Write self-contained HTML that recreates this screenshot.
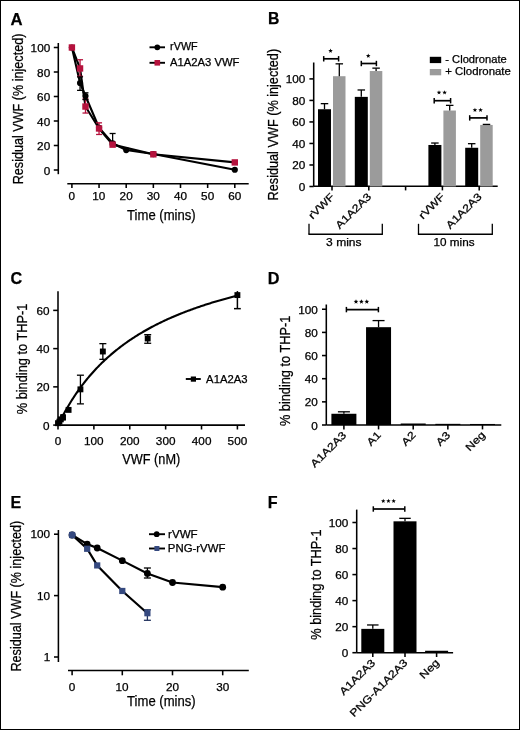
<!DOCTYPE html>
<html><head><meta charset="utf-8"><style>
html,body{margin:0;padding:0;background:#fff;}
svg{display:block;will-change:transform;}
text{font-family:"Liberation Sans", sans-serif;fill:#000;stroke:#000;stroke-width:0.25px;}
</style></head><body>
<svg width="520" height="730" viewBox="0 0 520 730">
<rect x="0" y="0" width="520" height="730" fill="#fff"/>
<rect x="0.5" y="0.5" width="519" height="729" fill="none" stroke="#000" stroke-width="1"/>
<text x="10.38" y="24.50" font-size="17" font-weight="bold" textLength="12.07" lengthAdjust="spacingAndGlyphs" >A</text>
<line x1="58.30" y1="43.00" x2="58.30" y2="174.20" stroke="#000" stroke-width="1.55" />
<line x1="53.80" y1="170.00" x2="58.30" y2="170.00" stroke="#000" stroke-width="1.55" />
<text x="43.65" y="174.50" font-size="10.3" textLength="6.53" lengthAdjust="spacingAndGlyphs" >0</text>
<line x1="53.80" y1="145.50" x2="58.30" y2="145.50" stroke="#000" stroke-width="1.55" />
<text x="37.14" y="150.00" font-size="10.3" textLength="13.06" lengthAdjust="spacingAndGlyphs" >20</text>
<line x1="53.80" y1="121.00" x2="58.30" y2="121.00" stroke="#000" stroke-width="1.55" />
<text x="37.14" y="125.51" font-size="10.3" textLength="13.06" lengthAdjust="spacingAndGlyphs" >40</text>
<line x1="53.80" y1="96.50" x2="58.30" y2="96.50" stroke="#000" stroke-width="1.55" />
<text x="37.14" y="101.01" font-size="10.3" textLength="13.06" lengthAdjust="spacingAndGlyphs" >60</text>
<line x1="53.80" y1="72.00" x2="58.30" y2="72.00" stroke="#000" stroke-width="1.55" />
<text x="37.14" y="76.51" font-size="10.3" textLength="13.06" lengthAdjust="spacingAndGlyphs" >80</text>
<line x1="53.80" y1="47.50" x2="58.30" y2="47.50" stroke="#000" stroke-width="1.55" />
<text x="30.62" y="52.00" font-size="10.3" textLength="19.59" lengthAdjust="spacingAndGlyphs" >100</text>
<line x1="67.30" y1="183.70" x2="248.70" y2="183.70" stroke="#000" stroke-width="1.55" />
<line x1="71.90" y1="183.70" x2="71.90" y2="188.00" stroke="#000" stroke-width="1.55" />
<text x="68.64" y="200.30" font-size="10.3" textLength="6.53" lengthAdjust="spacingAndGlyphs" >0</text>
<line x1="99.05" y1="183.70" x2="99.05" y2="188.00" stroke="#000" stroke-width="1.55" />
<text x="92.33" y="200.30" font-size="10.3" textLength="13.06" lengthAdjust="spacingAndGlyphs" >10</text>
<line x1="126.20" y1="183.70" x2="126.20" y2="188.00" stroke="#000" stroke-width="1.55" />
<text x="119.62" y="200.30" font-size="10.3" textLength="13.06" lengthAdjust="spacingAndGlyphs" >20</text>
<line x1="153.35" y1="183.70" x2="153.35" y2="188.00" stroke="#000" stroke-width="1.55" />
<text x="146.83" y="200.30" font-size="10.3" textLength="13.06" lengthAdjust="spacingAndGlyphs" >30</text>
<line x1="180.50" y1="183.70" x2="180.50" y2="188.00" stroke="#000" stroke-width="1.55" />
<text x="174.07" y="200.30" font-size="10.3" textLength="13.06" lengthAdjust="spacingAndGlyphs" >40</text>
<line x1="207.65" y1="183.70" x2="207.65" y2="188.00" stroke="#000" stroke-width="1.55" />
<text x="201.13" y="200.30" font-size="10.3" textLength="13.06" lengthAdjust="spacingAndGlyphs" >50</text>
<line x1="234.80" y1="183.70" x2="234.80" y2="188.00" stroke="#000" stroke-width="1.55" />
<text x="228.22" y="200.30" font-size="10.3" textLength="13.06" lengthAdjust="spacingAndGlyphs" >60</text>
<text x="127.07" y="220.00" font-size="14.2" font-weight="normal" textLength="68.58" lengthAdjust="spacingAndGlyphs" >Time (mins)</text>
<g transform="translate(22.50 183.30) rotate(-90)"><text x="-1.01" y="0" font-size="14.4" textLength="150.71" lengthAdjust="spacingAndGlyphs" >Residual VWF (% injected)</text></g>
<path d="M71.90,47.50 L80.05,83.02 L85.48,96.01 L99.05,127.74 L112.62,143.29 L126.20,150.03 L153.35,154.07 L234.80,169.75" fill="none" stroke="#000" stroke-width="2.1" stroke-linejoin="round"/>
<path d="M71.90,47.50 L80.05,68.45 L85.48,106.55 L99.05,128.47 L112.62,144.64 L153.35,154.32 L234.80,162.41" fill="none" stroke="#000" stroke-width="2.1" stroke-linejoin="round"/>
<line x1="80.05" y1="59.75" x2="80.05" y2="76.29" stroke="#b5123d" stroke-width="1.3" />
<line x1="77.05" y1="59.75" x2="83.05" y2="59.75" stroke="#b5123d" stroke-width="1.3" />
<line x1="77.05" y1="76.29" x2="83.05" y2="76.29" stroke="#b5123d" stroke-width="1.3" />
<line x1="85.48" y1="98.95" x2="85.48" y2="113.04" stroke="#b5123d" stroke-width="1.3" />
<line x1="82.48" y1="98.95" x2="88.48" y2="98.95" stroke="#b5123d" stroke-width="1.3" />
<line x1="82.48" y1="113.04" x2="88.48" y2="113.04" stroke="#b5123d" stroke-width="1.3" />
<line x1="99.05" y1="122.84" x2="99.05" y2="134.47" stroke="#b5123d" stroke-width="1.3" />
<line x1="96.05" y1="122.84" x2="102.05" y2="122.84" stroke="#b5123d" stroke-width="1.3" />
<line x1="96.05" y1="134.47" x2="102.05" y2="134.47" stroke="#b5123d" stroke-width="1.3" />
<line x1="80.05" y1="76.90" x2="80.05" y2="90.38" stroke="#000" stroke-width="1.3" />
<line x1="77.05" y1="76.90" x2="83.05" y2="76.90" stroke="#000" stroke-width="1.3" />
<line x1="77.05" y1="90.38" x2="83.05" y2="90.38" stroke="#000" stroke-width="1.3" />
<line x1="85.48" y1="92.82" x2="85.48" y2="99.56" stroke="#000" stroke-width="1.3" />
<line x1="82.48" y1="92.82" x2="88.48" y2="92.82" stroke="#000" stroke-width="1.3" />
<line x1="82.48" y1="99.56" x2="88.48" y2="99.56" stroke="#000" stroke-width="1.3" />
<line x1="112.62" y1="133.50" x2="112.62" y2="144.89" stroke="#000" stroke-width="1.3" />
<line x1="109.62" y1="133.50" x2="115.62" y2="133.50" stroke="#000" stroke-width="1.3" />
<line x1="109.62" y1="144.89" x2="115.62" y2="144.89" stroke="#000" stroke-width="1.3" />
<circle cx="71.90" cy="47.50" r="3.1" fill="#000"/>
<circle cx="80.05" cy="83.02" r="3.1" fill="#000"/>
<circle cx="85.48" cy="96.01" r="3.1" fill="#000"/>
<circle cx="99.05" cy="127.74" r="3.1" fill="#000"/>
<circle cx="112.62" cy="143.29" r="3.1" fill="#000"/>
<circle cx="126.20" cy="150.03" r="3.1" fill="#000"/>
<circle cx="153.35" cy="154.07" r="3.1" fill="#000"/>
<circle cx="234.80" cy="169.75" r="3.1" fill="#000"/>
<rect x="68.70" y="44.30" width="6.40" height="6.40" fill="#b5123d"/>
<rect x="76.84" y="65.25" width="6.40" height="6.40" fill="#b5123d"/>
<rect x="82.28" y="103.34" width="6.40" height="6.40" fill="#b5123d"/>
<rect x="95.85" y="125.27" width="6.40" height="6.40" fill="#b5123d"/>
<rect x="109.42" y="141.44" width="6.40" height="6.40" fill="#b5123d"/>
<rect x="150.15" y="151.12" width="6.40" height="6.40" fill="#b5123d"/>
<rect x="231.60" y="159.21" width="6.40" height="6.40" fill="#b5123d"/>
<line x1="149.50" y1="47.30" x2="165.00" y2="47.30" stroke="#000" stroke-width="1.9" />
<circle cx="157.30" cy="47.30" r="2.9" fill="#000"/>
<text x="170.10" y="50.40" font-size="10.3" font-weight="normal" textLength="27.63" lengthAdjust="spacingAndGlyphs" >rVWF</text>
<line x1="149.50" y1="62.80" x2="165.00" y2="62.80" stroke="#000" stroke-width="1.9" />
<rect x="154.50" y="60.00" width="5.60" height="5.60" fill="#b5123d"/>
<text x="169.94" y="65.50" font-size="10.3" font-weight="normal" textLength="69.50" lengthAdjust="spacingAndGlyphs" >A1A2A3 VWF</text>
<text x="267.98" y="24.40" font-size="17" font-weight="bold" textLength="11.37" lengthAdjust="spacingAndGlyphs" >B</text>
<line x1="313.70" y1="62.50" x2="313.70" y2="186.50" stroke="#000" stroke-width="1.55" />
<line x1="309.40" y1="186.50" x2="313.70" y2="186.50" stroke="#000" stroke-width="1.55" />
<text x="298.85" y="191.00" font-size="10.3" textLength="6.53" lengthAdjust="spacingAndGlyphs" >0</text>
<line x1="309.40" y1="164.98" x2="313.70" y2="164.98" stroke="#000" stroke-width="1.55" />
<text x="292.34" y="169.48" font-size="10.3" textLength="13.06" lengthAdjust="spacingAndGlyphs" >20</text>
<line x1="309.40" y1="143.46" x2="313.70" y2="143.46" stroke="#000" stroke-width="1.55" />
<text x="292.34" y="147.96" font-size="10.3" textLength="13.06" lengthAdjust="spacingAndGlyphs" >40</text>
<line x1="309.40" y1="121.94" x2="313.70" y2="121.94" stroke="#000" stroke-width="1.55" />
<text x="292.34" y="126.45" font-size="10.3" textLength="13.06" lengthAdjust="spacingAndGlyphs" >60</text>
<line x1="309.40" y1="100.42" x2="313.70" y2="100.42" stroke="#000" stroke-width="1.55" />
<text x="292.34" y="104.92" font-size="10.3" textLength="13.06" lengthAdjust="spacingAndGlyphs" >80</text>
<line x1="309.40" y1="78.90" x2="313.70" y2="78.90" stroke="#000" stroke-width="1.55" />
<text x="285.82" y="83.41" font-size="10.3" textLength="19.59" lengthAdjust="spacingAndGlyphs" >100</text>
<line x1="313.70" y1="186.30" x2="497.70" y2="186.30" stroke="#000" stroke-width="1.55" />
<line x1="332.00" y1="186.50" x2="332.00" y2="190.40" stroke="#000" stroke-width="1.55" />
<line x1="368.80" y1="186.50" x2="368.80" y2="190.40" stroke="#000" stroke-width="1.55" />
<line x1="405.60" y1="186.50" x2="405.60" y2="190.40" stroke="#000" stroke-width="1.55" />
<line x1="442.40" y1="186.50" x2="442.40" y2="190.40" stroke="#000" stroke-width="1.55" />
<line x1="479.20" y1="186.50" x2="479.20" y2="190.40" stroke="#000" stroke-width="1.55" />
<rect x="318.00" y="109.24" width="13.00" height="77.26" fill="#000"/>
<rect x="333.00" y="76.21" width="12.50" height="110.29" fill="#9b9b9b"/>
<line x1="324.50" y1="103.65" x2="324.50" y2="109.24" stroke="#000" stroke-width="1.3" />
<line x1="320.75" y1="103.65" x2="328.25" y2="103.65" stroke="#000" stroke-width="1.3" />
<line x1="339.30" y1="63.84" x2="339.30" y2="76.21" stroke="#000" stroke-width="1.3" />
<line x1="335.55" y1="63.84" x2="343.05" y2="63.84" stroke="#000" stroke-width="1.3" />
<rect x="354.80" y="96.87" width="13.00" height="89.63" fill="#000"/>
<rect x="369.80" y="71.05" width="12.50" height="115.45" fill="#9b9b9b"/>
<line x1="361.30" y1="89.98" x2="361.30" y2="96.87" stroke="#000" stroke-width="1.3" />
<line x1="357.55" y1="89.98" x2="365.05" y2="89.98" stroke="#000" stroke-width="1.3" />
<line x1="376.10" y1="68.14" x2="376.10" y2="71.05" stroke="#000" stroke-width="1.3" />
<line x1="372.35" y1="68.14" x2="379.85" y2="68.14" stroke="#000" stroke-width="1.3" />
<rect x="428.40" y="144.97" width="13.00" height="41.53" fill="#000"/>
<rect x="443.40" y="110.53" width="12.50" height="75.97" fill="#9b9b9b"/>
<line x1="434.90" y1="143.03" x2="434.90" y2="144.97" stroke="#000" stroke-width="1.3" />
<line x1="431.15" y1="143.03" x2="438.65" y2="143.03" stroke="#000" stroke-width="1.3" />
<line x1="449.70" y1="105.37" x2="449.70" y2="110.53" stroke="#000" stroke-width="1.3" />
<line x1="445.95" y1="105.37" x2="453.45" y2="105.37" stroke="#000" stroke-width="1.3" />
<rect x="465.20" y="147.76" width="13.00" height="38.74" fill="#000"/>
<rect x="480.20" y="124.95" width="12.50" height="61.55" fill="#9b9b9b"/>
<line x1="471.70" y1="143.68" x2="471.70" y2="147.76" stroke="#000" stroke-width="1.3" />
<line x1="467.95" y1="143.68" x2="475.45" y2="143.68" stroke="#000" stroke-width="1.3" />
<line x1="486.50" y1="124.41" x2="486.50" y2="124.95" stroke="#000" stroke-width="1.3" />
<line x1="482.75" y1="124.41" x2="490.25" y2="124.41" stroke="#000" stroke-width="1.3" />
<line x1="323.70" y1="58.80" x2="338.60" y2="58.80" stroke="#000" stroke-width="1.7" />
<line x1="323.70" y1="56.10" x2="323.70" y2="61.50" stroke="#000" stroke-width="1.5" />
<line x1="338.60" y1="56.10" x2="338.60" y2="61.50" stroke="#000" stroke-width="1.5" />
<polygon points="330.55,48.50 331.14,50.08 332.83,50.16 331.51,51.21 331.96,52.84 330.55,51.91 329.14,52.84 329.59,51.21 328.27,50.16 329.96,50.08" fill="#000"/>
<line x1="361.30" y1="63.50" x2="376.40" y2="63.50" stroke="#000" stroke-width="1.7" />
<line x1="361.30" y1="60.80" x2="361.30" y2="66.20" stroke="#000" stroke-width="1.5" />
<line x1="376.40" y1="60.80" x2="376.40" y2="66.20" stroke="#000" stroke-width="1.5" />
<polygon points="368.25,53.50 368.84,55.08 370.53,55.16 369.21,56.21 369.66,57.84 368.25,56.91 366.84,57.84 367.29,56.21 365.97,55.16 367.66,55.08" fill="#000"/>
<line x1="434.20" y1="100.70" x2="450.60" y2="100.70" stroke="#000" stroke-width="1.7" />
<line x1="434.20" y1="98.00" x2="434.20" y2="103.40" stroke="#000" stroke-width="1.5" />
<line x1="450.60" y1="98.00" x2="450.60" y2="103.40" stroke="#000" stroke-width="1.5" />
<polygon points="439.00,90.20 439.59,91.78 441.28,91.86 439.96,92.91 440.41,94.54 439.00,93.61 437.59,94.54 438.04,92.91 436.72,91.86 438.41,91.78" fill="#000"/>
<polygon points="444.60,90.20 445.19,91.78 446.88,91.86 445.56,92.91 446.01,94.54 444.60,93.61 443.19,94.54 443.64,92.91 442.32,91.86 444.01,91.78" fill="#000"/>
<line x1="469.70" y1="117.90" x2="487.00" y2="117.90" stroke="#000" stroke-width="1.7" />
<line x1="469.70" y1="115.20" x2="469.70" y2="120.60" stroke="#000" stroke-width="1.5" />
<line x1="487.00" y1="115.20" x2="487.00" y2="120.60" stroke="#000" stroke-width="1.5" />
<polygon points="474.95,107.70 475.54,109.28 477.23,109.36 475.91,110.41 476.36,112.04 474.95,111.11 473.54,112.04 473.99,110.41 472.67,109.36 474.36,109.28" fill="#000"/>
<polygon points="480.55,107.70 481.14,109.28 482.83,109.36 481.51,110.41 481.96,112.04 480.55,111.11 479.14,112.04 479.59,110.41 478.27,109.36 479.96,109.28" fill="#000"/>
<rect x="429.80" y="56.80" width="11.40" height="6.30" fill="#000"/>
<rect x="429.80" y="69.00" width="11.40" height="6.30" fill="#9b9b9b"/>
<text x="445.30" y="63.00" font-size="10.3" font-weight="normal" textLength="61.44" lengthAdjust="spacingAndGlyphs" >- Clodronate</text>
<text x="445.23" y="75.00" font-size="10.3" font-weight="normal" textLength="65.67" lengthAdjust="spacingAndGlyphs" >+ Clodronate</text>
<g transform="translate(278.10 199.40) rotate(-90)"><text x="-1.01" y="0" font-size="14.4" textLength="151.52" lengthAdjust="spacingAndGlyphs" >Residual VWF (% injected)</text></g>
<g transform="translate(334.70 197.70) rotate(-45)"><text x="-31.16" y="0" font-size="10.5" textLength="31.65" lengthAdjust="spacingAndGlyphs" >rVWF</text></g>
<g transform="translate(371.50 197.70) rotate(-45)"><text x="-44.91" y="0" font-size="10.5" textLength="45.47" lengthAdjust="spacingAndGlyphs" >A1A2A3</text></g>
<g transform="translate(445.10 197.70) rotate(-45)"><text x="-31.16" y="0" font-size="10.5" textLength="31.65" lengthAdjust="spacingAndGlyphs" >rVWF</text></g>
<g transform="translate(481.90 197.70) rotate(-45)"><text x="-44.91" y="0" font-size="10.5" textLength="45.47" lengthAdjust="spacingAndGlyphs" >A1A2A3</text></g>
<line x1="309.00" y1="223.80" x2="309.00" y2="234.30" stroke="#000" stroke-width="1.3" />
<line x1="382.30" y1="223.80" x2="382.30" y2="234.30" stroke="#000" stroke-width="1.3" />
<line x1="308.40" y1="234.30" x2="382.90" y2="234.30" stroke="#000" stroke-width="1.5" />
<text x="326.12" y="246.00" font-size="10.3" font-weight="normal" textLength="35.41" lengthAdjust="spacingAndGlyphs" >3 mins</text>
<line x1="418.50" y1="223.80" x2="418.50" y2="234.30" stroke="#000" stroke-width="1.3" />
<line x1="492.30" y1="223.80" x2="492.30" y2="234.30" stroke="#000" stroke-width="1.3" />
<line x1="417.90" y1="234.30" x2="492.90" y2="234.30" stroke="#000" stroke-width="1.5" />
<text x="433.52" y="246.00" font-size="10.3" font-weight="normal" textLength="41.01" lengthAdjust="spacingAndGlyphs" >10 mins</text>
<text x="10.55" y="284.30" font-size="17" font-weight="bold" textLength="11.69" lengthAdjust="spacingAndGlyphs" >C</text>
<line x1="58.00" y1="291.30" x2="58.00" y2="425.10" stroke="#000" stroke-width="1.55" />
<line x1="53.20" y1="425.10" x2="58.00" y2="425.10" stroke="#000" stroke-width="1.55" />
<text x="43.05" y="429.61" font-size="10.3" textLength="6.53" lengthAdjust="spacingAndGlyphs" >0</text>
<line x1="53.20" y1="386.86" x2="58.00" y2="386.86" stroke="#000" stroke-width="1.55" />
<text x="36.54" y="391.37" font-size="10.3" textLength="13.06" lengthAdjust="spacingAndGlyphs" >20</text>
<line x1="53.20" y1="348.62" x2="58.00" y2="348.62" stroke="#000" stroke-width="1.55" />
<text x="36.54" y="353.12" font-size="10.3" textLength="13.06" lengthAdjust="spacingAndGlyphs" >40</text>
<line x1="53.20" y1="310.38" x2="58.00" y2="310.38" stroke="#000" stroke-width="1.55" />
<text x="36.54" y="314.88" font-size="10.3" textLength="13.06" lengthAdjust="spacingAndGlyphs" >60</text>
<line x1="58.00" y1="425.10" x2="245.00" y2="425.10" stroke="#000" stroke-width="1.55" />
<line x1="58.00" y1="425.10" x2="58.00" y2="429.50" stroke="#000" stroke-width="1.55" />
<text x="54.74" y="445.40" font-size="10.3" textLength="6.53" lengthAdjust="spacingAndGlyphs" >0</text>
<line x1="93.88" y1="425.10" x2="93.88" y2="429.50" stroke="#000" stroke-width="1.55" />
<text x="83.90" y="445.40" font-size="10.3" textLength="19.59" lengthAdjust="spacingAndGlyphs" >100</text>
<line x1="129.76" y1="425.10" x2="129.76" y2="429.50" stroke="#000" stroke-width="1.55" />
<text x="119.93" y="445.40" font-size="10.3" textLength="19.59" lengthAdjust="spacingAndGlyphs" >200</text>
<line x1="165.64" y1="425.10" x2="165.64" y2="429.50" stroke="#000" stroke-width="1.55" />
<text x="155.86" y="445.40" font-size="10.3" textLength="19.59" lengthAdjust="spacingAndGlyphs" >300</text>
<line x1="201.52" y1="425.10" x2="201.52" y2="429.50" stroke="#000" stroke-width="1.55" />
<text x="191.83" y="445.40" font-size="10.3" textLength="19.59" lengthAdjust="spacingAndGlyphs" >400</text>
<line x1="237.40" y1="425.10" x2="237.40" y2="429.50" stroke="#000" stroke-width="1.55" />
<text x="227.62" y="445.40" font-size="10.3" textLength="19.59" lengthAdjust="spacingAndGlyphs" >500</text>
<text x="122.34" y="464.20" font-size="14.0" font-weight="normal" textLength="57.89" lengthAdjust="spacingAndGlyphs" >VWF (nM)</text>
<g transform="translate(26.50 413.80) rotate(-90)"><text x="-0.45" y="0" font-size="14.0" textLength="110.52" lengthAdjust="spacingAndGlyphs" >% binding to THP-1</text></g>
<path d="M58.00,425.10 L58.90,423.27 L59.79,421.47 L60.69,419.71 L61.59,417.98 L62.48,416.28 L63.38,414.60 L64.28,412.96 L65.18,411.35 L66.07,409.76 L66.97,408.20 L67.87,406.67 L68.76,405.16 L69.66,403.67 L70.56,402.22 L71.45,400.78 L72.35,399.37 L73.25,397.98 L74.15,396.61 L75.04,395.27 L75.94,393.94 L76.84,392.64 L77.73,391.35 L78.63,390.09 L79.53,388.84 L80.42,387.61 L81.32,386.41 L82.22,385.22 L83.12,384.04 L84.01,382.89 L84.91,381.75 L85.81,380.62 L86.70,379.52 L87.60,378.43 L88.50,377.35 L89.39,376.29 L90.29,375.24 L91.19,374.21 L92.09,373.20 L92.98,372.19 L93.88,371.20 L94.78,370.23 L95.67,369.26 L96.57,368.31 L97.47,367.37 L98.37,366.45 L99.26,365.53 L100.16,364.63 L101.06,363.74 L101.95,362.86 L102.85,361.99 L103.75,361.13 L104.64,360.29 L105.54,359.45 L106.44,358.63 L107.34,357.81 L108.23,357.00 L109.13,356.21 L110.03,355.42 L110.92,354.65 L111.82,353.88 L112.72,353.12 L113.61,352.37 L114.51,351.63 L115.41,350.90 L116.31,350.17 L117.20,349.46 L118.10,348.75 L119.00,348.05 L119.89,347.36 L120.79,346.68 L121.69,346.00 L122.58,345.33 L123.48,344.67 L124.38,344.02 L125.28,343.37 L126.17,342.73 L127.07,342.10 L127.97,341.47 L128.86,340.85 L129.76,340.24 L130.66,339.63 L131.55,339.03 L132.45,338.44 L133.35,337.85 L134.25,337.27 L135.14,336.70 L136.04,336.13 L136.94,335.56 L137.83,335.01 L138.73,334.45 L139.63,333.91 L140.52,333.37 L141.42,332.83 L142.32,332.30 L143.22,331.77 L144.11,331.25 L145.01,330.74 L145.91,330.23 L146.80,329.72 L147.70,329.22 L148.60,328.73 L149.49,328.24 L150.39,327.75 L151.29,327.27 L152.19,326.79 L153.08,326.32 L153.98,325.85 L154.88,325.39 L155.77,324.93 L156.67,324.47 L157.57,324.02 L158.46,323.58 L159.36,323.13 L160.26,322.69 L161.16,322.26 L162.05,321.83 L162.95,321.40 L163.85,320.98 L164.74,320.56 L165.64,320.14 L166.54,319.73 L167.43,319.32 L168.33,318.91 L169.23,318.51 L170.12,318.11 L171.02,317.72 L171.92,317.33 L172.82,316.94 L173.71,316.55 L174.61,316.17 L175.51,315.79 L176.40,315.42 L177.30,315.05 L178.20,314.68 L179.09,314.31 L179.99,313.95 L180.89,313.59 L181.79,313.23 L182.68,312.87 L183.58,312.52 L184.48,312.17 L185.37,311.83 L186.27,311.49 L187.17,311.14 L188.06,310.81 L188.96,310.47 L189.86,310.14 L190.76,309.81 L191.65,309.48 L192.55,309.16 L193.45,308.83 L194.34,308.52 L195.24,308.20 L196.14,307.88 L197.03,307.57 L197.93,307.26 L198.83,306.95 L199.73,306.65 L200.62,306.34 L201.52,306.04 L202.42,305.74 L203.31,305.45 L204.21,305.15 L205.11,304.86 L206.00,304.57 L206.90,304.28 L207.80,304.00 L208.70,303.71 L209.59,303.43 L210.49,303.15 L211.39,302.87 L212.28,302.60 L213.18,302.32 L214.08,302.05 L214.97,301.78 L215.87,301.51 L216.77,301.25 L217.67,300.98 L218.56,300.72 L219.46,300.46 L220.36,300.20 L221.25,299.95 L222.15,299.69 L223.05,299.44 L223.94,299.19 L224.84,298.94 L225.74,298.69 L226.64,298.44 L227.53,298.20 L228.43,297.95 L229.33,297.71 L230.22,297.47 L231.12,297.23 L232.02,296.99 L232.91,296.76 L233.81,296.53 L234.71,296.29 L235.61,296.06 L236.50,295.83 L237.40,295.61" fill="none" stroke="#000" stroke-width="2.1" stroke-linejoin="round"/>
<line x1="80.42" y1="375.20" x2="80.42" y2="403.88" stroke="#000" stroke-width="1.3" />
<line x1="76.92" y1="375.20" x2="83.92" y2="375.20" stroke="#000" stroke-width="1.3" />
<line x1="76.92" y1="403.88" x2="83.92" y2="403.88" stroke="#000" stroke-width="1.3" />
<line x1="102.85" y1="343.65" x2="102.85" y2="359.33" stroke="#000" stroke-width="1.3" />
<line x1="99.35" y1="343.65" x2="106.35" y2="343.65" stroke="#000" stroke-width="1.3" />
<line x1="99.35" y1="359.33" x2="106.35" y2="359.33" stroke="#000" stroke-width="1.3" />
<line x1="147.70" y1="334.66" x2="147.70" y2="343.27" stroke="#000" stroke-width="1.3" />
<line x1="144.20" y1="334.66" x2="151.20" y2="334.66" stroke="#000" stroke-width="1.3" />
<line x1="144.20" y1="343.27" x2="151.20" y2="343.27" stroke="#000" stroke-width="1.3" />
<line x1="237.40" y1="291.07" x2="237.40" y2="308.66" stroke="#000" stroke-width="1.5" />
<line x1="234.00" y1="308.66" x2="240.80" y2="308.66" stroke="#000" stroke-width="1.5" />
<line x1="63.02" y1="414.78" x2="63.02" y2="419.75" stroke="#000" stroke-width="1.3" />
<line x1="60.52" y1="414.78" x2="65.52" y2="414.78" stroke="#000" stroke-width="1.3" />
<line x1="60.52" y1="419.75" x2="65.52" y2="419.75" stroke="#000" stroke-width="1.3" />
<rect x="55.05" y="420.24" width="5.90" height="5.90" fill="#000"/>
<rect x="56.45" y="418.71" width="5.90" height="5.90" fill="#000"/>
<rect x="57.85" y="416.41" width="5.90" height="5.90" fill="#000"/>
<rect x="60.07" y="414.50" width="5.90" height="5.90" fill="#000"/>
<rect x="65.63" y="406.95" width="5.90" height="5.90" fill="#000"/>
<rect x="77.47" y="386.40" width="5.90" height="5.90" fill="#000"/>
<rect x="99.90" y="348.54" width="5.90" height="5.90" fill="#000"/>
<rect x="144.75" y="335.54" width="5.90" height="5.90" fill="#000"/>
<rect x="234.45" y="292.13" width="5.90" height="5.90" fill="#000"/>
<line x1="185.80" y1="379.00" x2="200.80" y2="379.00" stroke="#000" stroke-width="1.9" />
<rect x="190.80" y="376.50" width="5.20" height="5.20" fill="#000"/>
<text x="206.14" y="382.70" font-size="10.3" font-weight="normal" textLength="41.36" lengthAdjust="spacingAndGlyphs" >A1A2A3</text>
<text x="267.74" y="284.30" font-size="17" font-weight="bold" textLength="11.74" lengthAdjust="spacingAndGlyphs" >D</text>
<line x1="326.30" y1="304.50" x2="326.30" y2="425.00" stroke="#000" stroke-width="1.55" />
<line x1="322.00" y1="425.00" x2="326.30" y2="425.00" stroke="#000" stroke-width="1.55" />
<text x="311.25" y="429.50" font-size="10.3" textLength="6.53" lengthAdjust="spacingAndGlyphs" >0</text>
<line x1="322.00" y1="401.85" x2="326.30" y2="401.85" stroke="#000" stroke-width="1.55" />
<text x="304.74" y="406.36" font-size="10.3" textLength="13.06" lengthAdjust="spacingAndGlyphs" >20</text>
<line x1="322.00" y1="378.70" x2="326.30" y2="378.70" stroke="#000" stroke-width="1.55" />
<text x="304.74" y="383.20" font-size="10.3" textLength="13.06" lengthAdjust="spacingAndGlyphs" >40</text>
<line x1="322.00" y1="355.55" x2="326.30" y2="355.55" stroke="#000" stroke-width="1.55" />
<text x="304.74" y="360.06" font-size="10.3" textLength="13.06" lengthAdjust="spacingAndGlyphs" >60</text>
<line x1="322.00" y1="332.40" x2="326.30" y2="332.40" stroke="#000" stroke-width="1.55" />
<text x="304.74" y="336.90" font-size="10.3" textLength="13.06" lengthAdjust="spacingAndGlyphs" >80</text>
<line x1="322.00" y1="309.25" x2="326.30" y2="309.25" stroke="#000" stroke-width="1.55" />
<text x="298.22" y="313.75" font-size="10.3" textLength="19.59" lengthAdjust="spacingAndGlyphs" >100</text>
<line x1="326.30" y1="425.00" x2="501.30" y2="425.00" stroke="#000" stroke-width="1.55" />
<rect x="331.40" y="413.77" width="25.00" height="11.23" fill="#000"/>
<line x1="343.90" y1="411.80" x2="343.90" y2="413.77" stroke="#000" stroke-width="1.3" />
<line x1="337.90" y1="411.80" x2="349.90" y2="411.80" stroke="#000" stroke-width="1.3" />
<line x1="343.90" y1="425.00" x2="343.90" y2="429.40" stroke="#000" stroke-width="1.55" />
<rect x="366.05" y="327.19" width="25.00" height="97.81" fill="#000"/>
<line x1="378.55" y1="320.59" x2="378.55" y2="327.19" stroke="#000" stroke-width="1.3" />
<line x1="372.55" y1="320.59" x2="384.55" y2="320.59" stroke="#000" stroke-width="1.3" />
<line x1="378.55" y1="425.00" x2="378.55" y2="429.40" stroke="#000" stroke-width="1.55" />
<rect x="400.70" y="423.50" width="25.00" height="1.50" fill="#000"/>
<line x1="413.20" y1="425.00" x2="413.20" y2="429.40" stroke="#000" stroke-width="1.55" />
<rect x="435.35" y="423.84" width="25.00" height="1.16" fill="#000"/>
<line x1="447.85" y1="425.00" x2="447.85" y2="429.40" stroke="#000" stroke-width="1.55" />
<rect x="470.00" y="423.96" width="25.00" height="1.04" fill="#000"/>
<line x1="482.50" y1="425.00" x2="482.50" y2="429.40" stroke="#000" stroke-width="1.55" />
<line x1="346.40" y1="309.60" x2="378.40" y2="309.60" stroke="#000" stroke-width="1.7" />
<line x1="346.40" y1="306.90" x2="346.40" y2="312.30" stroke="#000" stroke-width="1.5" />
<line x1="378.40" y1="306.90" x2="378.40" y2="312.30" stroke="#000" stroke-width="1.5" />
<polygon points="356.00,299.20 356.62,300.85 358.38,300.93 357.00,302.02 357.47,303.72 356.00,302.75 354.53,303.72 355.00,302.02 353.62,300.93 355.38,300.85" fill="#000"/>
<polygon points="361.40,299.20 362.02,300.85 363.78,300.93 362.40,302.02 362.87,303.72 361.40,302.75 359.93,303.72 360.40,302.02 359.02,300.93 360.78,300.85" fill="#000"/>
<polygon points="366.80,299.20 367.42,300.85 369.18,300.93 367.80,302.02 368.27,303.72 366.80,302.75 365.33,303.72 365.80,302.02 364.42,300.93 366.18,300.85" fill="#000"/>
<g transform="translate(346.60 436.20) rotate(-45)"><text x="-44.91" y="0" font-size="10.5" textLength="45.47" lengthAdjust="spacingAndGlyphs" >A1A2A3</text></g>
<g transform="translate(381.25 436.20) rotate(-45)"><text x="-14.50" y="0" font-size="10.5" textLength="15.16" lengthAdjust="spacingAndGlyphs" >A1</text></g>
<g transform="translate(415.90 436.20) rotate(-45)"><text x="-14.50" y="0" font-size="10.5" textLength="15.16" lengthAdjust="spacingAndGlyphs" >A2</text></g>
<g transform="translate(450.55 436.20) rotate(-45)"><text x="-14.56" y="0" font-size="10.5" textLength="15.16" lengthAdjust="spacingAndGlyphs" >A3</text></g>
<g transform="translate(485.20 436.20) rotate(-45)"><text x="-21.93" y="0" font-size="10.5" textLength="22.73" lengthAdjust="spacingAndGlyphs" >Neg</text></g>
<g transform="translate(289.50 425.60) rotate(-90)"><text x="-0.45" y="0" font-size="14.0" textLength="110.32" lengthAdjust="spacingAndGlyphs" >% binding to THP-1</text></g>
<text x="10.45" y="507.90" font-size="17" font-weight="bold" textLength="10.74" lengthAdjust="spacingAndGlyphs" >E</text>
<line x1="58.40" y1="530.00" x2="58.40" y2="662.00" stroke="#000" stroke-width="1.55" />
<line x1="54.00" y1="657.00" x2="58.40" y2="657.00" stroke="#000" stroke-width="1.55" />
<text x="43.67" y="660.90" font-size="10.3" textLength="6.53" lengthAdjust="spacingAndGlyphs" >1</text>
<line x1="54.00" y1="595.60" x2="58.40" y2="595.60" stroke="#000" stroke-width="1.55" />
<text x="37.04" y="599.50" font-size="10.3" textLength="13.06" lengthAdjust="spacingAndGlyphs" >10</text>
<line x1="54.00" y1="534.20" x2="58.40" y2="534.20" stroke="#000" stroke-width="1.55" />
<text x="30.52" y="538.11" font-size="10.3" textLength="19.59" lengthAdjust="spacingAndGlyphs" >100</text>
<line x1="68.00" y1="670.40" x2="248.80" y2="670.40" stroke="#000" stroke-width="1.55" />
<line x1="72.10" y1="670.40" x2="72.10" y2="675.30" stroke="#000" stroke-width="1.55" />
<text x="68.84" y="690.60" font-size="10.3" textLength="6.53" lengthAdjust="spacingAndGlyphs" >0</text>
<line x1="122.30" y1="670.40" x2="122.30" y2="675.30" stroke="#000" stroke-width="1.55" />
<text x="115.58" y="690.60" font-size="10.3" textLength="13.06" lengthAdjust="spacingAndGlyphs" >10</text>
<line x1="172.50" y1="670.40" x2="172.50" y2="675.30" stroke="#000" stroke-width="1.55" />
<text x="165.92" y="690.60" font-size="10.3" textLength="13.06" lengthAdjust="spacingAndGlyphs" >20</text>
<line x1="222.70" y1="670.40" x2="222.70" y2="675.30" stroke="#000" stroke-width="1.55" />
<text x="216.18" y="690.60" font-size="10.3" textLength="13.06" lengthAdjust="spacingAndGlyphs" >30</text>
<text x="127.07" y="706.30" font-size="14.2" font-weight="normal" textLength="68.58" lengthAdjust="spacingAndGlyphs" >Time (mins)</text>
<g transform="translate(20.80 670.50) rotate(-90)"><text x="-1.01" y="0" font-size="14.4" textLength="150.71" lengthAdjust="spacingAndGlyphs" >Residual VWF (% injected)</text></g>
<path d="M72.10,535.00 L87.16,544.15 L97.20,547.98 L122.30,560.63 L147.40,573.45 L172.50,582.48 L222.70,587.13" fill="none" stroke="#000" stroke-width="2.2" stroke-linejoin="round"/>
<path d="M72.10,535.00 L87.16,548.78 L97.20,565.43 L122.30,590.97 L147.40,613.21" fill="none" stroke="#000" stroke-width="2.2" stroke-linejoin="round"/>
<line x1="147.40" y1="568.00" x2="147.40" y2="578.00" stroke="#000" stroke-width="1.3" />
<line x1="143.90" y1="568.00" x2="150.90" y2="568.00" stroke="#000" stroke-width="1.3" />
<line x1="143.90" y1="578.00" x2="150.90" y2="578.00" stroke="#000" stroke-width="1.3" />
<line x1="147.40" y1="609.80" x2="147.40" y2="620.30" stroke="#22335e" stroke-width="1.3" />
<line x1="143.90" y1="609.80" x2="150.90" y2="609.80" stroke="#22335e" stroke-width="1.3" />
<line x1="143.90" y1="620.30" x2="150.90" y2="620.30" stroke="#22335e" stroke-width="1.3" />
<circle cx="72.10" cy="535.00" r="3.4" fill="#000"/>
<circle cx="87.16" cy="544.15" r="3.4" fill="#000"/>
<circle cx="97.20" cy="547.98" r="3.4" fill="#000"/>
<circle cx="122.30" cy="560.63" r="3.4" fill="#000"/>
<circle cx="147.40" cy="573.45" r="3.4" fill="#000"/>
<circle cx="172.50" cy="582.48" r="3.4" fill="#000"/>
<circle cx="222.70" cy="587.13" r="3.4" fill="#000"/>
<rect x="69.00" y="531.90" width="6.20" height="6.20" fill="#35497f"/>
<rect x="84.06" y="545.68" width="6.20" height="6.20" fill="#35497f"/>
<rect x="94.10" y="562.33" width="6.20" height="6.20" fill="#35497f"/>
<rect x="119.20" y="587.87" width="6.20" height="6.20" fill="#35497f"/>
<rect x="144.30" y="610.11" width="6.20" height="6.20" fill="#35497f"/>
<circle cx="72.10" cy="535.00" r="3.5" fill="#35497f"/>
<line x1="149.00" y1="534.20" x2="165.00" y2="534.20" stroke="#000" stroke-width="1.9" />
<circle cx="156.70" cy="534.20" r="2.9" fill="#000"/>
<text x="168.05" y="537.60" font-size="10.3" font-weight="normal" textLength="29.61" lengthAdjust="spacingAndGlyphs" >rVWF</text>
<line x1="149.00" y1="548.50" x2="165.00" y2="548.50" stroke="#000" stroke-width="1.9" />
<rect x="154.40" y="546.00" width="5.00" height="5.00" fill="#35497f"/>
<text x="167.89" y="551.80" font-size="10.3" font-weight="normal" textLength="57.56" lengthAdjust="spacingAndGlyphs" >PNG-rVWF</text>
<text x="267.85" y="507.90" font-size="17" font-weight="bold" textLength="9.82" lengthAdjust="spacingAndGlyphs" >F</text>
<line x1="356.70" y1="509.60" x2="356.70" y2="652.70" stroke="#000" stroke-width="1.55" />
<line x1="352.40" y1="652.70" x2="356.70" y2="652.70" stroke="#000" stroke-width="1.55" />
<text x="341.85" y="657.21" font-size="10.3" textLength="6.53" lengthAdjust="spacingAndGlyphs" >0</text>
<line x1="352.40" y1="626.66" x2="356.70" y2="626.66" stroke="#000" stroke-width="1.55" />
<text x="335.34" y="631.17" font-size="10.3" textLength="13.06" lengthAdjust="spacingAndGlyphs" >20</text>
<line x1="352.40" y1="600.62" x2="356.70" y2="600.62" stroke="#000" stroke-width="1.55" />
<text x="335.34" y="605.12" font-size="10.3" textLength="13.06" lengthAdjust="spacingAndGlyphs" >40</text>
<line x1="352.40" y1="574.58" x2="356.70" y2="574.58" stroke="#000" stroke-width="1.55" />
<text x="335.34" y="579.09" font-size="10.3" textLength="13.06" lengthAdjust="spacingAndGlyphs" >60</text>
<line x1="352.40" y1="548.54" x2="356.70" y2="548.54" stroke="#000" stroke-width="1.55" />
<text x="335.34" y="553.05" font-size="10.3" textLength="13.06" lengthAdjust="spacingAndGlyphs" >80</text>
<line x1="352.40" y1="522.50" x2="356.70" y2="522.50" stroke="#000" stroke-width="1.55" />
<text x="328.82" y="527.00" font-size="10.3" textLength="19.59" lengthAdjust="spacingAndGlyphs" >100</text>
<line x1="356.70" y1="652.70" x2="453.10" y2="652.70" stroke="#000" stroke-width="1.55" />
<rect x="361.30" y="628.87" width="23.00" height="23.83" fill="#000"/>
<line x1="372.80" y1="624.97" x2="372.80" y2="628.87" stroke="#000" stroke-width="1.3" />
<line x1="367.05" y1="624.97" x2="378.55" y2="624.97" stroke="#000" stroke-width="1.3" />
<line x1="372.80" y1="652.70" x2="372.80" y2="657.00" stroke="#000" stroke-width="1.55" />
<rect x="393.50" y="521.33" width="23.00" height="131.37" fill="#000"/>
<line x1="405.00" y1="518.33" x2="405.00" y2="521.33" stroke="#000" stroke-width="1.3" />
<line x1="399.25" y1="518.33" x2="410.75" y2="518.33" stroke="#000" stroke-width="1.3" />
<line x1="405.00" y1="652.70" x2="405.00" y2="657.00" stroke="#000" stroke-width="1.55" />
<rect x="425.10" y="650.75" width="23.00" height="1.95" fill="#000"/>
<line x1="436.60" y1="652.70" x2="436.60" y2="657.00" stroke="#000" stroke-width="1.55" />
<line x1="373.30" y1="509.00" x2="404.80" y2="509.00" stroke="#000" stroke-width="1.7" />
<line x1="373.30" y1="506.30" x2="373.30" y2="511.70" stroke="#000" stroke-width="1.5" />
<line x1="404.80" y1="506.30" x2="404.80" y2="511.70" stroke="#000" stroke-width="1.5" />
<polygon points="383.25,498.80 383.82,500.32 385.44,500.39 384.17,501.40 384.60,502.96 383.25,502.07 381.90,502.96 382.33,501.40 381.06,500.39 382.68,500.32" fill="#000"/>
<polygon points="388.45,498.80 389.02,500.32 390.64,500.39 389.37,501.40 389.80,502.96 388.45,502.07 387.10,502.96 387.53,501.40 386.26,500.39 387.88,500.32" fill="#000"/>
<polygon points="393.65,498.80 394.22,500.32 395.84,500.39 394.57,501.40 395.00,502.96 393.65,502.07 392.30,502.96 392.73,501.40 391.46,500.39 393.08,500.32" fill="#000"/>
<g transform="translate(375.50 663.90) rotate(-45)"><text x="-44.91" y="0" font-size="10.5" textLength="45.47" lengthAdjust="spacingAndGlyphs" >A1A2A3</text></g>
<g transform="translate(407.70 663.90) rotate(-45)"><text x="-75.89" y="0" font-size="10.5" textLength="76.44" lengthAdjust="spacingAndGlyphs" >PNG-A1A2A3</text></g>
<g transform="translate(439.30 663.90) rotate(-45)"><text x="-21.93" y="0" font-size="10.5" textLength="22.73" lengthAdjust="spacingAndGlyphs" >Neg</text></g>
<g transform="translate(320.50 639.30) rotate(-90)"><text x="-0.45" y="0" font-size="14.0" textLength="110.42" lengthAdjust="spacingAndGlyphs" >% binding to THP-1</text></g>
</svg></body></html>
